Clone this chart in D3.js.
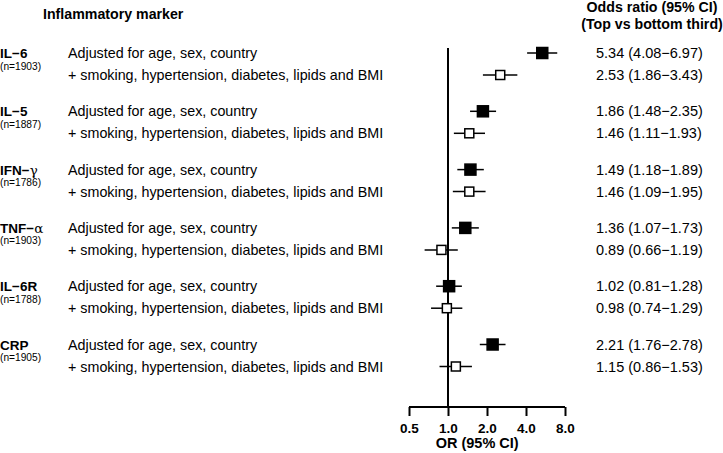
<!DOCTYPE html>
<html>
<head>
<meta charset="utf-8">
<script src="https://cdn.jsdelivr.net/npm/d3@7"></script>
<style>
body { margin: 0; background: #fff; }
text { font-family: "Liberation Sans", Arial, sans-serif; fill: #000; }
</style>
</head>
<body>
<svg id="chart" width="723" height="453"></svg>
<script>
var markers = ["IL\u22126", "IL\u22125", "IFN\u2212", "TNF\u2212", "IL\u22126R", "CRP"];
var greek = ["", "", "\u03b3", "\u03b1", "", ""];
var nCounts = [1903, 1887, 1786, 1903, 1788, 1905];
var models = ["Adjusted for age, sex, country", "+ smoking, hypertension, diabetes, lipids and BMI"];

// model 1: age, sex, country
var or1 = [5.34, 1.86, 1.49, 1.36, 1.02, 2.21];
var lo1 = [4.08, 1.48, 1.18, 1.07, 0.81, 1.76];
var hi1 = [6.97, 2.35, 1.89, 1.73, 1.28, 2.78];
// model 2: fully adjusted
var or2 = [2.53, 1.46, 1.46, 0.89, 0.98, 1.15];
var lo2 = [1.86, 1.11, 1.09, 0.66, 0.74, 0.86];
var hi2 = [3.43, 1.93, 1.95, 1.19, 1.29, 1.53];

var ticks = [0.5, 1, 2, 4, 8];

var svg = d3.select("#chart");

var x = d3.scaleLog().base(2).domain([0.5, 8]).range([409, 565]);
var y = d3.scaleLinear().domain([0, 5]).range([53, 344.5]);
var rowGap = 22;
var axisY = 407;

var rows = [];
markers.forEach(function(m, i) {
  rows.push({g: i, k: 0, or: or1[i], lo: lo1[i], hi: hi1[i]});
  rows.push({g: i, k: 1, or: or2[i], lo: lo2[i], hi: hi2[i]});
});
function rowY(d) { return y(d.g) + d.k * rowGap; }

// headers
svg.append("text").attr("x", 43).attr("y", 19)
  .style("font-size", "14.2px").style("font-weight", "bold")
  .text("Inflammatory marker");
svg.append("text").attr("x", 652).attr("y", 12).attr("text-anchor", "middle")
  .style("font-size", "14.2px").style("font-weight", "bold")
  .text("Odds ratio (95% CI)");
svg.append("text").attr("x", 652).attr("y", 29).attr("text-anchor", "middle")
  .style("font-size", "14.2px").style("font-weight", "bold")
  .text("(Top vs bottom third)");

// marker labels
var lab = svg.append("g").selectAll("text").data(markers).enter().append("text")
  .attr("x", 0).attr("y", function(d, i) { return y(i) + 5; })
  .style("font-size", "13.5px").style("font-weight", "bold")
  .text(function(d) { return d; });
lab.append("tspan")
  .style("font-weight", "normal").style("font-family", "DejaVu Serif, serif")
  .text(function(d, i) { return greek[i]; });

svg.append("g").selectAll("text").data(nCounts).enter().append("text")
  .attr("x", 0).attr("y", function(d, i) { return y(i) + 16.5; })
  .style("font-size", "10.2px")
  .text(function(d) { return "(n=" + d + ")"; });

// model descriptions
svg.append("g").selectAll("text").data(rows).enter().append("text")
  .attr("x", 68).attr("y", function(d) { return rowY(d) + 5; })
  .style("font-size", "14.3px")
  .text(function(d) { return models[d.k]; });

// values on the right
svg.append("g").selectAll("text").data(rows).enter().append("text")
  .attr("x", 596).attr("y", function(d) { return rowY(d) + 5; })
  .style("font-size", "14.5px")
  .text(function(d) { return d.or.toFixed(2) + " (" + d.lo.toFixed(2) + "\u2212" + d.hi.toFixed(2) + ")"; });

// reference line at OR = 1
svg.append("line")
  .attr("x1", x(1)).attr("x2", x(1)).attr("y1", 48).attr("y2", axisY)
  .attr("stroke", "#000").attr("stroke-width", 2);

// axis
var axis = svg.append("g").attr("transform", "translate(0," + axisY + ")")
  .call(d3.axisBottom(x).tickValues(ticks).tickSize(9).tickSizeOuter(0)
    .tickFormat(d3.format(".1f")));
axis.select(".domain").attr("stroke-width", 2).attr("d", "M" + x(0.5) + ",0H" + x(8));
axis.selectAll(".tick line").attr("stroke-width", 2);
axis.selectAll(".tick text")
  .attr("y", 16).attr("dy", "0.71em")
  .style("font-size", "13.5px").style("font-weight", "bold")
  .style("font-family", "Liberation Sans, Arial, sans-serif");
svg.append("text").attr("x", x(1.68)).attr("y", 448).attr("text-anchor", "middle")
  .style("font-size", "14.5px").style("font-weight", "bold")
  .text("OR (95% CI)");

// confidence intervals
svg.append("g").selectAll("line").data(rows).enter().append("line")
  .attr("x1", function(d) { return x(d.lo); })
  .attr("x2", function(d) { return x(d.hi); })
  .attr("y1", rowY).attr("y2", rowY)
  .attr("stroke", "#000").attr("stroke-width", 1.5);

// point estimates
function sz(d) { return d.k ? 9 : 11; }
svg.append("g").selectAll("rect").data(rows).enter().append("rect")
  .attr("x", function(d) { return x(d.or) - sz(d) / 2; })
  .attr("y", function(d) { return rowY(d) - sz(d) / 2; })
  .attr("width", sz)
  .attr("height", sz)
  .attr("fill", function(d) { return d.k ? "#fff" : "#000"; })
  .attr("stroke", "#000").attr("stroke-width", 1.5);
</script>
</body>
</html>
